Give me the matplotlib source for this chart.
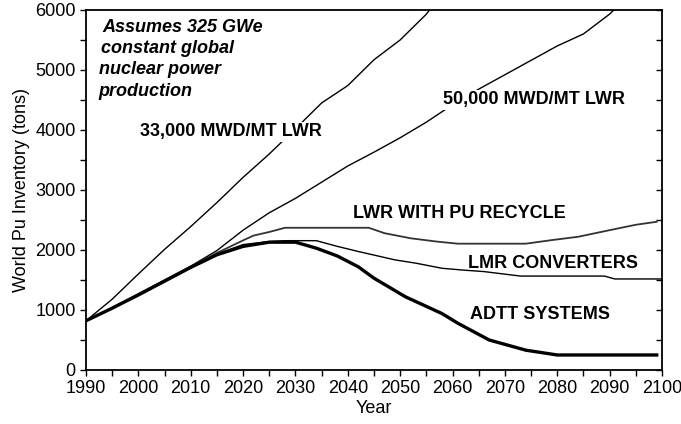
import matplotlib
matplotlib.use("Agg")
from matplotlib import pyplot as plt
from matplotlib.ticker import MultipleLocator

plt.rcParams["font.family"] = ["Liberation Sans", "DejaVu Sans"]

# 33,000 MWD/MT LWR
years_33k = [1990, 1995, 2000, 2005, 2010, 2015, 2020, 2025, 2030, 2035, 2040, 2045, 2050, 2055, 2057]
pu_33k = [820, 1180, 1600, 2010, 2390, 2790, 3210, 3600, 4020, 4450, 4740, 5170, 5500, 5930, 6150]

# 50,000 MWD/MT LWR
years_50k = [1990, 1995, 2000, 2005, 2010, 2015, 2020, 2025, 2030, 2035, 2040, 2045, 2050, 2055, 2060,
             2065, 2070, 2075, 2080, 2085, 2090, 2092]
pu_50k = [820, 1040, 1270, 1500, 1730, 1990, 2330, 2620, 2860, 3130, 3400, 3630, 3870, 4130, 4420,
          4680, 4920, 5160, 5400, 5600, 5930, 6100]

# LWR with Pu recycle
years_rec = [1990, 1995, 2000, 2005, 2010, 2015, 2020, 2022, 2025, 2028, 2044, 2047, 2052, 2057, 2061,
             2074, 2079, 2084, 2090, 2095, 2099]
pu_rec = [820, 1035, 1260, 1490, 1720, 1950, 2160, 2240, 2300, 2370, 2370, 2280, 2195, 2140, 2105,
          2105, 2165, 2220, 2330, 2420, 2470]

# LMR converters
years_lmr = [1990, 1995, 2000, 2005, 2010, 2015, 2020, 2025, 2028, 2034, 2038, 2042, 2049, 2053, 2058,
             2062, 2066, 2073, 2089, 2091, 2100]
pu_lmr = [820, 1030, 1250, 1480, 1710, 1930, 2090, 2140, 2155, 2155, 2060, 1975, 1835, 1780, 1695,
          1665, 1640, 1565, 1565, 1517, 1517]

# ADTT systems
years_adtt = [1990, 1995, 2000, 2005, 2010, 2015, 2020, 2025, 2030, 2034, 2038, 2042, 2045, 2051, 2058,
              2061, 2067, 2074, 2080, 2099]
pu_adtt = [820, 1030, 1250, 1480, 1710, 1920, 2060, 2130, 2130, 2030, 1900, 1720, 1530, 1220, 940,
           780, 500, 330, 250, 250]

fig = plt.figure(figsize=(6.81, 4.24), dpi=100)
ax = fig.add_axes([0.1263, 0.1274, 0.8457, 0.8491])

ax.plot(years_33k, pu_33k, color="black", lw=1.0)
ax.plot(years_50k, pu_50k, color="black", lw=1.0)
ax.plot(years_rec, pu_rec, color="#333333", lw=1.3)
ax.plot(years_lmr, pu_lmr, color="black", lw=1.0)
ax.plot(years_adtt, pu_adtt, color="black", lw=2.4)

ax.set_xlim(1990, 2100)
ax.set_ylim(0, 6000)
ax.xaxis.set_major_locator(MultipleLocator(10))
ax.xaxis.set_minor_locator(MultipleLocator(5))
ax.yaxis.set_major_locator(MultipleLocator(1000))
ax.yaxis.set_minor_locator(MultipleLocator(500))
ax.tick_params(axis="both", which="both", direction="out", length=4, width=1, labelsize=13)
ax.tick_params(axis="y", which="both", right=True, labelright=False)
for sp in ax.spines.values():
    sp.set_linewidth(1.3)

# right-side ticks point inward
for t in ax.yaxis.get_major_ticks() + ax.yaxis.get_minor_ticks():
    t.tick2line.set_marker(matplotlib.lines.TICKLEFT)

ax.set_xlabel("Year", fontsize=13, labelpad=2)
ax.set_ylabel("World Pu Inventory (tons)", fontsize=13, labelpad=4)

note = dict(fontsize=13, fontweight="bold", fontstyle="italic", va="center", ha="left")
ax.text(1993.2, 5710, "Assumes 325 GWe", **note)
ax.text(1992.8, 5360, "constant global", **note)
ax.text(1992.4, 5010, "nuclear power", **note)
ax.text(1992.4, 4640, "production", **note)

lab = dict(fontsize=13, fontweight="bold", va="center", ha="left")
white = dict(facecolor="white", edgecolor="none", pad=1)
ax.text(2000.3, 3970, "33,000 MWD/MT LWR", bbox=white, **lab)
ax.text(2058.2, 4500, "50,000 MWD/MT LWR", bbox=white, **lab)
ax.text(2040.9, 2600, "LWR WITH PU RECYCLE", **lab)
ax.text(2062.9, 1780, "LMR CONVERTERS", **lab)
ax.text(2063.4, 920, "ADTT SYSTEMS", **lab)

fig.savefig("out.png", dpi=100)
